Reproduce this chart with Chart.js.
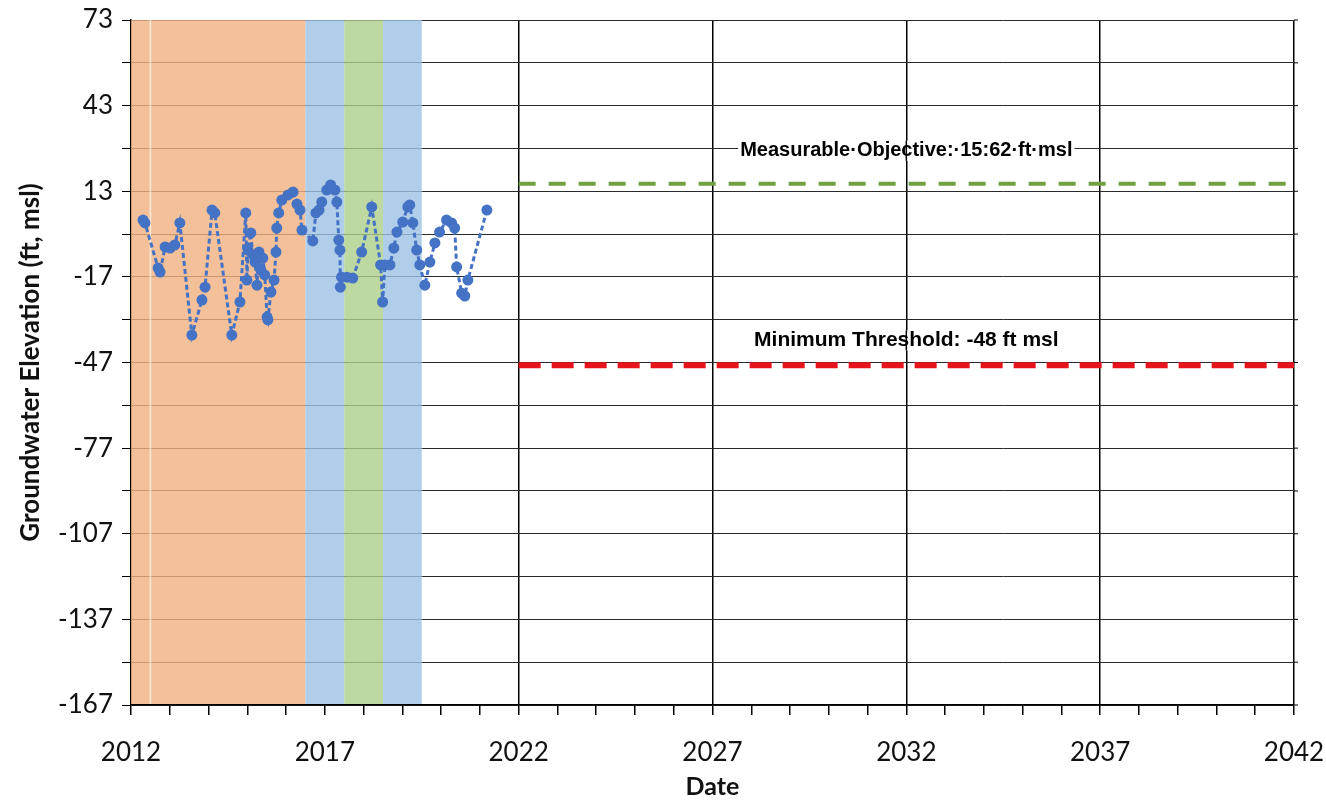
<!DOCTYPE html>
<html>
<head>
<meta charset="utf-8">
<script src="https://cdn.jsdelivr.net/npm/chart.js@4.4.0/dist/chart.umd.min.js"></script>
<style>
  html, body { margin: 0; background: #fff; }
</style>
</head>
<body>
<canvas id="chart" width="1326" height="802"></canvas>
<script>
// observed groundwater elevations (decimal year, ft msl)
const obsYears = [
  2012.31, 2012.36, 2012.70, 2012.75, 2012.88, 2013.01, 2013.13, 2013.26,
  2013.57, 2013.83, 2013.91, 2014.09, 2014.16, 2014.60, 2014.81, 2014.96,
  2014.99, 2015.02, 2015.09, 2015.14, 2015.20, 2015.25, 2015.30, 2015.35,
  2015.40, 2015.45, 2015.51, 2015.53, 2015.61, 2015.69, 2015.74, 2015.76,
  2015.81, 2015.89, 2016.05, 2016.18, 2016.28, 2016.36, 2016.41, 2016.69,
  2016.77, 2016.85, 2016.92, 2017.05, 2017.15, 2017.26, 2017.31, 2017.36,
  2017.39, 2017.40, 2017.43, 2017.57, 2017.72, 2017.95, 2018.21, 2018.44,
  2018.49, 2018.55, 2018.68, 2018.78, 2018.86, 2019.01, 2019.14, 2019.19,
  2019.27, 2019.37, 2019.45, 2019.58, 2019.71, 2019.84, 2019.96, 2020.14,
  2020.27, 2020.35, 2020.40, 2020.53, 2020.61, 2020.69, 2021.18
];
const obsElev = [
  2.9, 1.9, -13.9, -15.3, -6.5, -6.9, -5.8, 1.9,
  -37.4, -25.1, -20.6, 6.4, 5.4, -37.4, -25.8, 5.4,
  -18.1, -7.6, -1.6, -9.3, -11.8, -19.9, -8.3, -14.6,
  -10.4, -16.3, -31.1, -32.1, -22.3, -18.1, -8.3, 0.1,
  5.4, 9.9, 11.7, 12.7, 8.5, 6.4, -0.6, -4.4,
  5.4, 6.4, 9.2, 13.4, 15.2, 13.4, 9.2, -4.1,
  -7.6, -20.6, -17.1, -17.1, -17.4, -8.3, 7.5, -12.8,
  -25.8, -12.8, -12.8, -6.9, -1.3, 2.2, 7.5, 8.2,
  1.9, -7.6, -12.8, -19.9, -11.8, -5.1, -1.3, 2.9,
  1.9, 0.1, -13.5, -22.7, -23.7, -18.1, 6.4
];

// sustainability thresholds
const measurableObjective = 15.62;
const minimumThreshold = -48;
const thresholdYears = [2022, 2042];
const moLabel = "Measurable·Objective:·15:62·ft·msl";
const mtLabel = "Minimum Threshold: -48 ft msl";

// water-year type shading
const bandStart = [2012, 2016.5, 2017.5, 2018.5];
const bandEnd = [2016.5, 2017.5, 2018.5, 2019.5];
const bandColor = [
  "rgba(241,176,128,0.8)",
  "rgba(156,192,229,0.8)",
  "rgba(172,206,136,0.8)",
  "rgba(156,192,229,0.8)"
];

// axes
const yMin = -167, yMax = 73;
const yTickLabels = [73, 43, 13, -17, -47, -77, -107, -137, -167];
const xMin = 2012, xMax = 2042;
const xTickLabels = [2012, 2017, 2022, 2027, 2032, 2037, 2042];

const obsPoints = obsYears.map((x, i) => ({ x: x, y: obsElev[i] }));
const moPoints = thresholdYears.map((x) => ({ x: x, y: measurableObjective }));
const mtPoints = thresholdYears.map((x) => ({ x: x, y: minimumThreshold }));

const bandsPlugin = {
  id: "bands",
  beforeDatasetsDraw(chart) {
    const { ctx, chartArea, scales } = chart;
    ctx.save();
    bandStart.forEach((s, i) => {
      const x0 = scales.x.getPixelForValue(s);
      const x1 = scales.x.getPixelForValue(bandEnd[i]);
      ctx.fillStyle = bandColor[i];
      ctx.fillRect(x0, chartArea.top, x1 - x0, chartArea.bottom - chartArea.top - 1);
    });
    // faint gap line in the first band
    const xg = scales.x.getPixelForValue(2012.5);
    ctx.strokeStyle = "rgba(255,255,255,0.7)";
    ctx.lineWidth = 1.5;
    ctx.beginPath();
    ctx.moveTo(xg, chartArea.top);
    ctx.lineTo(xg, chartArea.bottom - 1);
    ctx.stroke();
    ctx.restore();
  }
};

const labelsPlugin = {
  id: "labels",
  afterDatasetsDraw(chart) {
    const { ctx, scales } = chart;
    const cx = scales.x.getPixelForValue(2032);
    ctx.save();
    ctx.textAlign = "center";
    ctx.textBaseline = "middle";
    const items = [
      { text: moLabel, y: scales.y.getPixelForValue(measurableObjective) - 33, size: 20 },
      { text: mtLabel, y: scales.y.getPixelForValue(minimumThreshold) - 25, size: 21 }
    ];
    items.forEach((it) => {
      ctx.font = "bold " + it.size + "px 'Liberation Sans', Arial, sans-serif";
      const w = ctx.measureText(it.text).width;
      ctx.fillStyle = "#fff";
      ctx.fillRect(cx - 2 - w / 2, it.y - 10, w + 4, 20);
      ctx.strokeStyle = "#000";
      ctx.lineWidth = 1.5;
      ctx.beginPath();
      ctx.moveTo(cx, it.y - 10);
      ctx.lineTo(cx, it.y + 10);
      ctx.stroke();
      ctx.fillStyle = "#000";
      ctx.fillText(it.text, cx, it.y);
    });
    // small tick marks on the right edge
    const xr = chart.chartArea.right;
    ctx.strokeStyle = "#000";
    ctx.lineWidth = 1;
    scales.y.ticks.forEach((t) => {
      const yy = scales.y.getPixelForValue(t.value);
      ctx.beginPath();
      ctx.moveTo(xr, yy);
      ctx.lineTo(xr + 4, yy);
      ctx.stroke();
    });
    ctx.restore();
  }
};

new Chart(document.getElementById("chart").getContext("2d"), {
  type: "scatter",
  data: {
    datasets: [
      {
        label: "Groundwater Elevation",
        data: obsPoints,
        showLine: true,
        borderColor: "#4472C4",
        backgroundColor: "#4472C4",
        borderWidth: 3,
        borderDash: [5, 3],
        pointRadius: 5.5,
        pointBorderWidth: 0,
        pointHoverRadius: 5.5
      },
      {
        label: "Measurable Objective",
        data: moPoints,
        showLine: true,
        borderColor: "#70A040",
        borderWidth: 4,
        borderDash: [17, 13],
        borderCapStyle: "butt",
        pointRadius: 0
      },
      {
        label: "Minimum Threshold",
        data: mtPoints,
        showLine: true,
        borderColor: "#E8141C",
        borderWidth: 6,
        borderDash: [22, 11],
        borderCapStyle: "butt",
        pointRadius: 0
      }
    ]
  },
  options: {
    responsive: false,
    devicePixelRatio: 1,
    animation: false,
    layout: { padding: { top: 20, right: 32, left: 0, bottom: 0 } },
    plugins: {
      legend: { display: false },
      tooltip: { enabled: false }
    },
    scales: {
      x: {
        type: "linear",
        min: xMin,
        max: xMax,
        afterFit: (s) => {
          s.height = 97;
          s.paddingLeft = 0;
          s.paddingRight = 0;
        },
        border: { color: "#000", width: 1.5 },
        grid: {
          color: (c) => {
            const v = c.tick ? c.tick.value : null;
            return v !== null && v % 5 === 2 && v !== 2017 ? "#000" : "rgba(0,0,0,0)";
          },
          lineWidth: 1.5,
          tickColor: "#000",
          tickLength: 10
        },
        ticks: {
          stepSize: 1,
          autoSkip: false,
          maxRotation: 0,
          padding: 22,
          color: "#111",
          font: { family: "Lato", size: 26 },
          callback: (v) => (xTickLabels.includes(v) ? String(v) : "")
        },
        title: {
          display: true,
          text: "Date",
          color: "#111",
          font: { family: "Lato", size: 25, weight: "bold" },
          padding: { top: 0, bottom: 0 }
        }
      },
      y: {
        min: yMin,
        max: yMax,
        afterFit: (s) => {
          s.width = 131;
          s.paddingTop = 0;
          s.paddingBottom = 0;
        },
        border: { color: "#000", width: 1.5 },
        grid: {
          color: "#2a2a2a",
          lineWidth: 1,
          tickColor: "#000",
          tickLength: 9
        },
        ticks: {
          stepSize: 15,
          padding: 9,
          color: "#111",
          font: { family: "Lato", size: 26 },
          callback: (v) => (yTickLabels.includes(v) ? String(v) : "")
        },
        title: {
          display: true,
          text: "Groundwater Elevation (ft, msl)",
          color: "#111",
          font: { family: "Lato", size: 26, weight: "bold" },
          padding: { top: 15, bottom: 0 }
        }
      }
    }
  },
  plugins: [bandsPlugin, labelsPlugin]
});
</script>
</body>
</html>
